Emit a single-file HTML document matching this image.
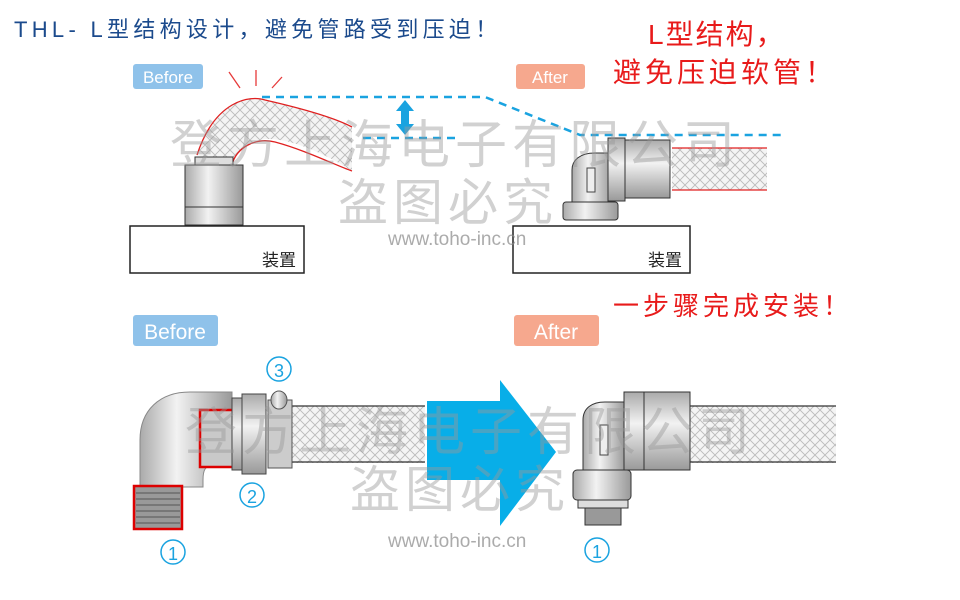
<!DOCTYPE html>
<html><head><meta charset="utf-8"><style>
html,body{margin:0;padding:0;background:#fff;width:960px;height:600px;overflow:hidden}
svg{display:block}
text{font-family:"Liberation Sans","Noto Sans CJK SC",sans-serif}
</style></head><body>
<svg width="960" height="600" viewBox="0 0 960 600" xmlns="http://www.w3.org/2000/svg">
<defs>
<pattern id="mesh" width="10" height="10" patternUnits="userSpaceOnUse">
<rect width="10" height="10" fill="#f4f4f4"/>
<path d="M0 0L10 10M10 0L0 10" stroke="#bbb" stroke-width="0.9"/>
</pattern>
<linearGradient id="metal" x1="0" y1="0" x2="1" y2="0">
<stop offset="0" stop-color="#aaa"/><stop offset="0.4" stop-color="#f2f2f2"/><stop offset="1" stop-color="#999"/>
</linearGradient>
<linearGradient id="metalv" x1="0" y1="0" x2="0" y2="1">
<stop offset="0" stop-color="#aaa"/><stop offset="0.4" stop-color="#f2f2f2"/><stop offset="1" stop-color="#999"/>
</linearGradient>
</defs>

<!-- titles -->
<text x="14" y="37" font-size="22" fill="#1b4a8c" letter-spacing="4.3">THL- L型结构设计，避免管路受到压迫！</text>
<text x="648" y="44" font-size="28" fill="#e81a1a" letter-spacing="2">L型结构，</text>
<text x="613" y="82" font-size="28" fill="#e81a1a" letter-spacing="4">避免压迫软管！</text>
<text x="613" y="315" font-size="26" fill="#e81a1a" letter-spacing="4">一步骤完成安装！</text>

<!-- labels -->
<rect x="133" y="64" width="70" height="25" rx="3" fill="#8fc2ea"/>
<text x="168" y="83" font-size="17" fill="#fff" text-anchor="middle">Before</text>
<rect x="516" y="64" width="69" height="25" rx="3" fill="#f6a88e"/>
<text x="550" y="83" font-size="17" fill="#fff" text-anchor="middle">After</text>
<rect x="133" y="315" width="85" height="31" rx="3" fill="#8fc2ea"/>
<text x="175" y="339" font-size="21" fill="#fff" text-anchor="middle">Before</text>
<rect x="514" y="315" width="85" height="31" rx="3" fill="#f6a88e"/>
<text x="556" y="339" font-size="21" fill="#fff" text-anchor="middle">After</text>

<!-- top left -->
<path d="M229 72L240 88M256 70L256 86M272 88L282 77" stroke="#e63a3a" stroke-width="1.3"/>
<path d="M197 155C215 100 250 95 265 100C300 108 335 118 352 127L352 171C320 150 280 135 260 140C240 145 233 160 232 165Z" fill="url(#mesh)"/>
<path d="M197 155C215 100 250 95 265 100C300 108 335 118 352 127M232 165C236 148 255 137 275 142C305 150 335 165 352 171" fill="none" stroke="#e02020" stroke-width="1.3"/>
<rect x="195" y="157" width="38" height="9" fill="#ddd" stroke="#333"/>
<rect x="185" y="165" width="58" height="42" fill="url(#metal)" stroke="#333"/>
<rect x="185" y="207" width="58" height="18" fill="url(#metal)" stroke="#333"/>
<rect x="130" y="226" width="174" height="47" fill="#fff" stroke="#222" stroke-width="1.5"/>
<text x="262" y="266" font-size="17" fill="#222">装置</text>

<!-- dashed -->
<path d="M262 97L485 97L580 135L785 135" fill="none" stroke="#1aa3e0" stroke-width="2.5" stroke-dasharray="8 6"/>
<path d="M363 138L455 138" fill="none" stroke="#1aa3e0" stroke-width="2.5" stroke-dasharray="8 6"/>
<path d="M405 100L414 111L409 111L409 124L414 124L405 135L396 124L401 124L401 111L396 111Z" fill="#1aa3e0"/>

<!-- top right fitting -->
<rect x="672" y="148" width="95" height="42" fill="url(#mesh)"/>
<path d="M672 148H767M672 190H767" stroke="#e02020" stroke-width="1.3"/>
<path d="M572 210V170C572 160 580 153 595 153H612V210Z" fill="url(#metal)" stroke="#333"/>
<rect x="587" y="168" width="8" height="24" fill="#eee" stroke="#444"/>
<rect x="608" y="138" width="17" height="63" fill="url(#metalv)" stroke="#333"/>
<rect x="625" y="140" width="45" height="58" fill="url(#metalv)" stroke="#333"/>
<rect x="563" y="202" width="55" height="18" fill="url(#metal)" stroke="#333" rx="3"/>
<rect x="513" y="226" width="177" height="47" fill="#fff" stroke="#222" stroke-width="1.5"/>
<text x="648" y="266" font-size="17" fill="#222">装置</text>

<!-- bottom left -->
<rect x="292" y="406" width="133" height="57" fill="url(#mesh)"/>
<path d="M292 406H425M292 462H425" stroke="#333" stroke-width="1.3"/>
<path d="M140 487V440C140 410 160 392 190 392H232V465H215C205 465 203 470 203 480V487Z" fill="url(#metal)" stroke="#888"/>
<rect x="134" y="486" width="48" height="43" fill="#999" stroke="#d00" stroke-width="2.5"/>
<path d="M136 493H180M136 499H180M136 505H180M136 511H180M136 517H180M136 523H180" stroke="#555"/>
<rect x="200" y="410" width="34" height="57" fill="#c9c9c9" stroke="#d00" stroke-width="2.5"/>
<rect x="232" y="398" width="10" height="72" fill="url(#metalv)" stroke="#444"/>
<rect x="242" y="394" width="24" height="80" fill="url(#metalv)" stroke="#444"/>
<rect x="268" y="400" width="24" height="68" fill="#ccc" stroke="#555"/>
<ellipse cx="279" cy="400" rx="8" ry="9" fill="url(#metal)" stroke="#555"/>
<circle cx="279" cy="369" r="12" fill="none" stroke="#1aa3e0" stroke-width="1.5"/>
<text x="279" y="377" font-size="18" fill="#1aa3e0" text-anchor="middle">3</text>
<circle cx="252" cy="495" r="12" fill="none" stroke="#1aa3e0" stroke-width="1.5"/>
<text x="252" y="503" font-size="18" fill="#1aa3e0" text-anchor="middle">2</text>
<circle cx="173" cy="552" r="12" fill="none" stroke="#1aa3e0" stroke-width="1.5"/>
<text x="173" y="560" font-size="18" fill="#1aa3e0" text-anchor="middle">1</text>

<!-- big arrow -->
<path d="M427 401H500V380L556 452L500 526V480H427Z" fill="#08aee8"/>

<!-- bottom right fitting -->
<rect x="690" y="406" width="146" height="57" fill="url(#mesh)"/>
<path d="M690 406H836M690 462H836" stroke="#333" stroke-width="1.3"/>
<path d="M583 470V420C583 408 592 402 605 402H625V470Z" fill="url(#metal)" stroke="#333"/>
<rect x="600" y="425" width="8" height="30" fill="#eee" stroke="#444"/>
<rect x="624" y="392" width="20" height="78" fill="url(#metalv)" stroke="#333"/>
<rect x="644" y="392" width="46" height="78" fill="url(#metalv)" stroke="#333"/>
<rect x="573" y="470" width="58" height="30" fill="url(#metal)" stroke="#333" rx="4"/>
<rect x="578" y="500" width="50" height="8" fill="#ddd" stroke="#333"/>
<rect x="585" y="508" width="36" height="17" fill="#999" stroke="#333"/>
<circle cx="597" cy="550" r="12" fill="none" stroke="#1aa3e0" stroke-width="1.5"/>
<text x="597" y="558" font-size="18" fill="#1aa3e0" text-anchor="middle">1</text>

<!-- watermarks -->
<g fill="#999" fill-opacity="0.45">
<text x="170" y="163" font-size="52" letter-spacing="5">登方上海电子有限公司</text>
<text x="338" y="220" font-size="50" letter-spacing="5">盗图必究</text>
<text x="185" y="450" font-size="52" letter-spacing="5">登方上海电子有限公司</text>
<text x="350" y="507" font-size="50" letter-spacing="5">盗图必究</text>
</g>
<g fill="#888" fill-opacity="0.7">
<text x="388" y="245" font-size="19">www.toho-inc.cn</text>
<text x="388" y="547" font-size="19">www.toho-inc.cn</text>
</g>
</svg>
</body></html>
